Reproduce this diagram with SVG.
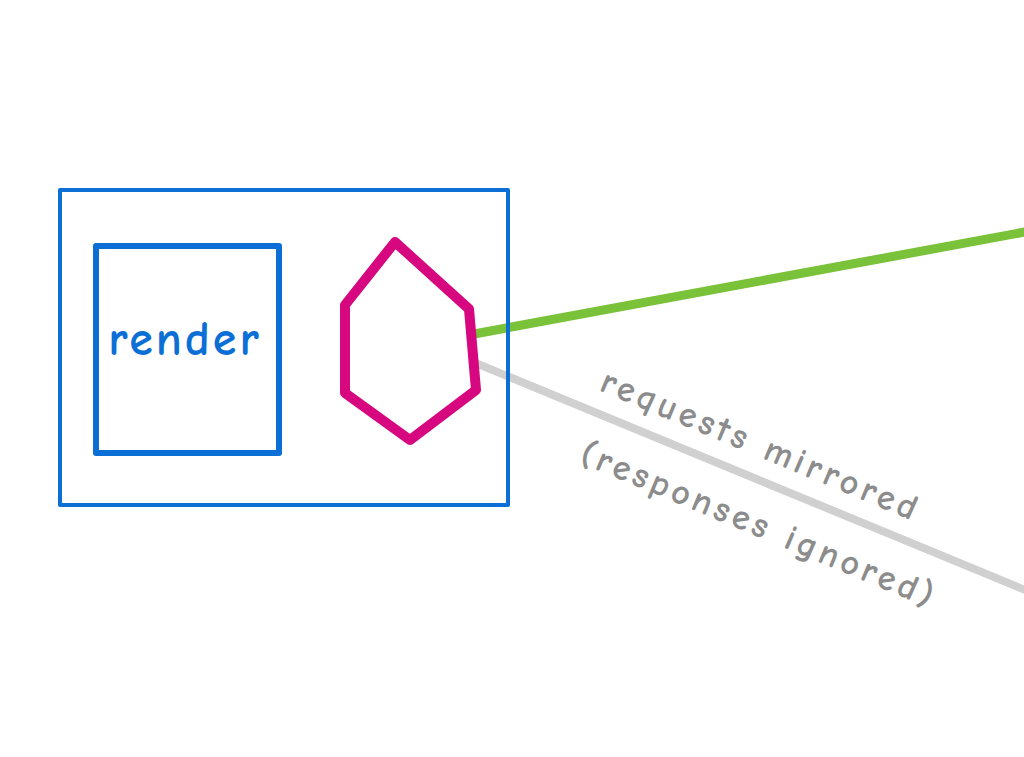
<svg xmlns="http://www.w3.org/2000/svg" width="1024" height="757" viewBox="0 0 1024 757">
<style>
.blue{fill:none;stroke:#0b6fd6;stroke-linejoin:round}
.lbl{font-family:"Comic Neue","DejaVu Sans",sans-serif;fill:#8c8c8c;font-size:36px;font-weight:bold;letter-spacing:4px}
</style>
<rect width="1024" height="757" fill="#fff"/>
<g id="connectors" stroke-linecap="round">
<line x1="474" y1="334" x2="1030" y2="231" stroke="#79c23a" stroke-width="9"/>
<line x1="478" y1="364" x2="1030" y2="592" stroke="#d0d0d0" stroke-width="8"/>
</g>
<g id="outer">
<rect class="blue" x="60" y="190" width="448" height="315" stroke-width="4"/>
</g>
<g id="render">
<rect class="blue" x="96" y="246" width="183" height="207" stroke-width="6"/>
<text x="185" y="355" text-anchor="middle" font-family="'Comic Neue','DejaVu Sans',sans-serif" font-weight="bold" font-size="48" fill="#0b6fd6" letter-spacing="3">render</text>
</g>
<g id="hexagon">
<polygon points="395,242 469,309 476,390 410,440 345,393 345,305" fill="none" stroke="#d6077f" stroke-width="10" stroke-linejoin="round"/>
</g>
<g id="label">
<text class="lbl" transform="translate(598,390) rotate(22.6)">requests mirrored</text>
<text class="lbl" transform="translate(578,462) rotate(22.6)">(responses ignored)</text>
</g>
</svg>
